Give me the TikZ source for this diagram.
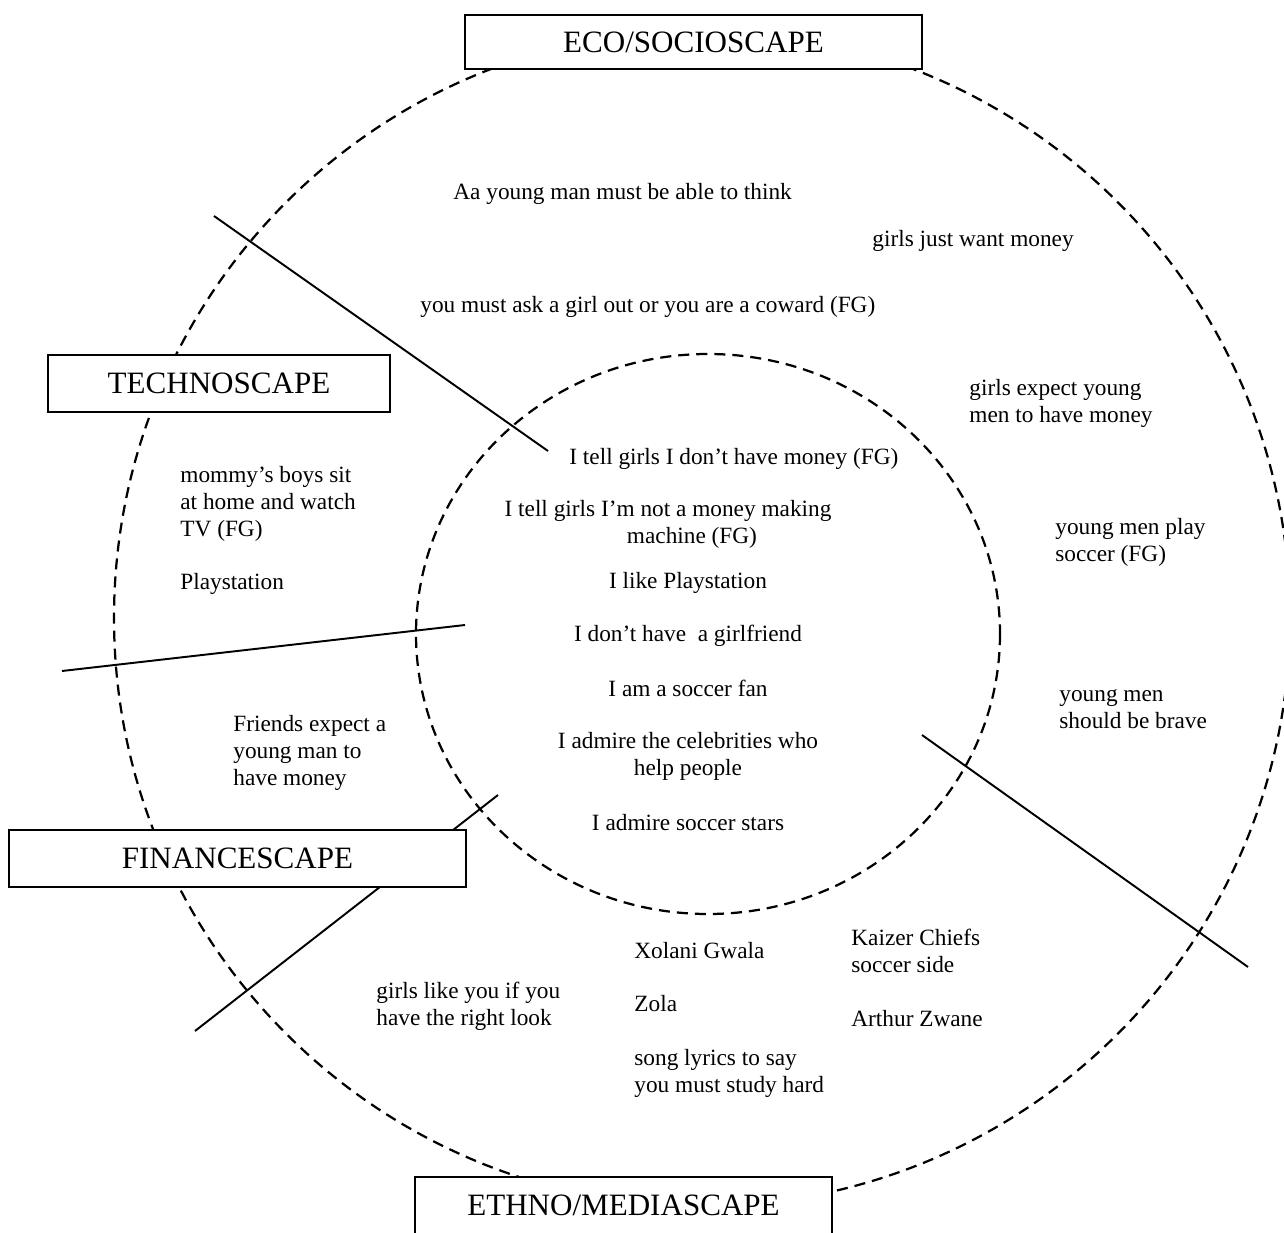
\documentclass[tikz,border=0pt]{standalone}
\usepackage{fontspec}
\setmainfont{Liberation Serif}
\begin{document}
\begin{tikzpicture}[
  x=0.515pt, y=-0.515pt,
  ring/.style={line width=1.15pt, dash pattern=on 5.7pt off 3.6pt},
  divider/.style={line width=1pt},
  scape/.style={draw, fill=white, line width=1.4pt, inner sep=0pt,
    font=\fontsize{16}{19}\selectfont},
  note/.style={inner sep=0pt, align=left, anchor=base west,
    font=\fontsize{12}{13.7}\selectfont},
  mid/.style={inner sep=0pt, align=center, anchor=base,
    font=\fontsize{12}{13.7}\selectfont}
]
\useasboundingbox (0,0) rectangle (1284,1233);
\clip (0,0) rectangle (1284,1233);

% the two dashed rings
\draw[ring] (702,618) circle [radius=588];
\draw[ring] (708,634) ellipse [x radius=292, y radius=280];

% solid dividers between the scapes
\coordinate (d1a) at (214,216);  \coordinate (d1b) at (548,451);
\coordinate (d2a) at (62,671);   \coordinate (d2b) at (465,625);
\coordinate (d3a) at (195,1031); \coordinate (d3b) at (498,795);
\coordinate (d4a) at (922,735);  \coordinate (d4b) at (1248,967);
\draw[divider] (d1a) -- (d1b);
\draw[divider] (d2a) -- (d2b);
\draw[divider] (d3a) -- (d3b);
\draw[divider] (d4a) -- (d4b);

% scape labels
\node[scape, minimum width=235.4pt, minimum height=27.8pt] (eco) at (693.5,42) {ECO/SOCIOSCAPE};
\node[scape, minimum width=176.1pt, minimum height=29.4pt] (techno) at (219,383.5) {TECHNOSCAPE};
\node[scape, minimum width=235.4pt, minimum height=29.4pt] (finance) at (237.5,858.5) {FINANCESCAPE};
\node[scape, minimum width=214.8pt, minimum height=29.4pt] (ethno) at (623.5,1205.5) {ETHNO/MEDIASCAPE};

% outer ring statements (multi-line nodes sit on their last baseline)
\node[note] (t1) at (453,200) {Aa young man must be able to think};
\node[note] (t2) at (872,247) {girls just want money};
\node[note] (t3) at (420,312) {you must ask a girl out or you are a coward (FG)};
\node[note] (t4) at (969,422) {girls expect young\\men to have money};
\node[note] (t6) at (180,536) {mommy’s boys sit\\at home and watch\\TV (FG)};
\node[note] (t8) at (1055,561) {young men play\\soccer (FG)};
\node[note] (t10) at (180,589) {Playstation};
\node[note] (t13) at (1059,728) {young men\\should be brave};
\node[note] (t14) at (233,785) {Friends expect a\\young man to\\have money};
\node[note] (t17) at (851,972) {Kaizer Chiefs\\soccer side};
\node[note] (t18) at (634,958) {Xolani Gwala};
\node[note] (t19) at (376,1025) {girls like you if you\\have the right look};
\node[note] (t20) at (634,1011) {Zola};
\node[note] (t21) at (851,1026) {Arthur Zwane};
\node[note] (t22) at (634,1092) {song lyrics to say\\you must study hard};

% inner ring statements
\node[note] (t5) at (569,464) {I tell girls I don’t have money (FG)};
\node[mid] (t7) at (668,543) {I tell girls I’m not a money making\\\hspace*{24.7pt}machine (FG)};
\node[mid] (t9) at (688,588) {I like Playstation};
\node[mid] (t11) at (688,641) {I don’t have\ \ a girlfriend};
\node[mid] (t12) at (688,696) {I am a soccer fan};
\node[mid] (t15) at (688,775) {I admire the celebrities who\\help people};
\node[mid] (t16) at (688,830) {I admire soccer stars};
\end{tikzpicture}
\end{document}
